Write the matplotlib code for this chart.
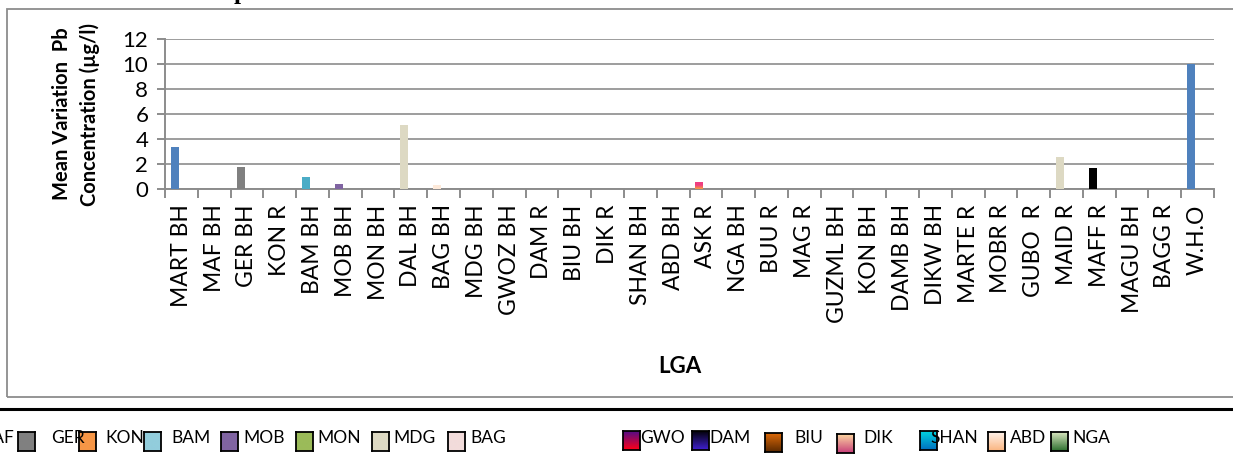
import numpy as np
import matplotlib
matplotlib.use('Agg')
import matplotlib.pyplot as plt
from matplotlib.patches import Rectangle
from matplotlib.colors import LinearSegmentedColormap
from matplotlib.lines import Line2D

# ---------------- data ----------------
categories = ['MART BH', 'MAF BH', 'GER BH', 'KON R', 'BAM BH', 'MOB BH', 'MON BH',
              'DAL BH', 'BAG BH', 'MDG BH', 'GWOZ BH', 'DAM R', 'BIU BH', 'DIK R',
              'SHAN BH', 'ABD BH', 'ASK R', 'NGA BH', 'BUU R', 'MAG R', 'GUZML BH',
              'KON BH', 'DAMB BH', 'DIKW BH', 'MARTE R', 'MOBR R', 'GUBO  R', 'MAID R',
              'MAFF R', 'MAGU BH', 'BAGG R', 'W.H.O']
values = [3.4, 0, 1.75, 0, 0.95, 0.4, 0, 5.1, 0.35, 0, 0, 0, 0, 0, 0, 0, 0.6,
          0, 0, 0, 0, 0, 0, 0, 0, 0, 0, 2.6, 1.7, 0, 0, 10.0]
bar_colors = ['#4F81BD', '#C0504D', '#808080', '#F79646', '#4BACC6', '#8064A2', '#9BBB59',
              '#DDD9C3', '#FDE9D9', '#DDD9C3', '#7030A0', '#000080', '#E36C09', '#FAC090',
              '#00B0F0', '#FAC090', '#EF3E82', '#9BBB59', '#4F81BD', '#C0504D', '#9BBB59',
              '#F79646', '#4BACC6', '#8064A2', '#4F81BD', '#C0504D', '#9BBB59', '#DDD9C3',
              '#000000', '#4BACC6', '#F79646', '#4F81BD']

y_ticks = [0, 2, 4, 6, 8, 10, 12]

legend_labels = ['GER', 'KON', 'BAM', 'MOB', 'MON', 'MDG', 'BAG', 'GWO', 'DAM',
                 'BIU', 'DIK', 'SHAN', 'ABD', 'NGA']
legend_top = ['#808080', '#F79646', '#92CDDC', '#8064A2', '#9BBB59', '#DDD9C3', '#F2DCDB',
              '#4B0C8C', '#000000', '#E36C09', '#FCD5A0', '#00D8E0', '#FFF2EA', '#D7E4BD']
legend_bottom = ['#808080', '#F79646', '#92CDDC', '#8064A2', '#9BBB59', '#DDD9C3', '#F2DCDB',
                 '#FF0018', '#4020D0', '#5C2A00', '#C8407A', '#0070C0', '#FAB580', '#2E7030']

# ---------------- layout ----------------
W, H = 1233, 465
fig = plt.figure(figsize=(W / 100, H / 100), dpi=100)
fig.patch.set_facecolor('white')


def fx(px):
    return px / W


def fy(py):
    return 1 - py / H


FONT = ['Lato', 'DejaVu Sans']
GRID = '#8C8C8C'

ax = fig.add_axes([fx(165), fy(189), (1214 - 165) / W, 150 / H])
xpos = np.arange(len(categories))
bars = ax.bar(xpos - 0.195, values, width=0.244, color=bar_colors, zorder=3, linewidth=0)

# gradient on the ASK R bar
b = bars[categories.index('ASK R')]
grad = np.linspace(0, 1, 64).reshape(-1, 1)
cmap = LinearSegmentedColormap.from_list('ask', ['#F7A040', '#EF3E82', '#EF3E82'])
im = ax.imshow(grad, extent=[b.get_x(), b.get_x() + b.get_width(), 0, b.get_height()],
               origin='lower', aspect='auto', cmap=cmap, zorder=4)
im.set_clip_path(b)

ax.set_xlim(-0.5, len(categories) - 0.5)
ax.set_ylim(0, 12)
ax.set_yticks(y_ticks)
ax.yaxis.grid(True, color=GRID, linewidth=1.2)
ax.set_axisbelow(True)

for s in ['top', 'right']:
    ax.spines[s].set_visible(False)
for s in ['left', 'bottom']:
    ax.spines[s].set_color(GRID)
    ax.spines[s].set_linewidth(1.4)

ax.set_xticks(xpos)
ax.set_xticklabels(categories, rotation=90, fontsize=16.5, family=FONT, va='top', ha='center')
ax.set_xticks(np.arange(-0.5, len(categories), 1), minor=True)
ax.tick_params(axis='x', which='major', length=0, pad=11)
ax.tick_params(axis='x', which='minor', length=6.5, width=1.4, color=GRID)
ax.tick_params(axis='y', length=6, width=1.4, color=GRID, pad=6, labelsize=16)
for t in ax.get_yticklabels():
    t.set_family(FONT)

# axis titles
fig.text(fx(76), fy(114), 'Mean Variation  Pb\nConcentration (\u00b5g/l)', rotation=90,
         ha='center', va='center', multialignment='center', fontsize=14.5,
         fontweight='bold', family=FONT, linespacing=1.4)
fig.text(fx(680), fy(366), 'LGA', ha='center', va='center', fontsize=16,
         fontweight='bold', family=FONT)

# cut-off title at the very top
fig.text(fx(241), fy(-1), 'p', ha='center', va='baseline', fontsize=18,
         fontweight='bold', family=['Liberation Serif', 'DejaVu Serif'])

# chart frame
fig.patches.append(Rectangle((fx(7), fy(397)), fx(1245) - fx(7), fy(9) - fy(397),
                             transform=fig.transFigure, fill=False, ec=GRID, lw=1.3))
# black separator line
fig.add_artist(Line2D([0, 1], [fy(409), fy(409)], color='black', lw=2.2,
                      transform=fig.transFigure))

# legend (as shown, a separate misaligned row)
sq_x = [18, 79, 144, 221, 296, 372, 448, 623, 692, 765, 837, 920, 988, 1051]
sq_y = [432, 432, 432, 432, 432, 432, 432, 431, 431, 433, 434, 431, 432, 432]
lab_x = [51, 105, 171, 243, 317, 393, 470, 640, 709, 794, 863, 930, 1010, 1072]
fig.text(fx(14), fy(443), 'MAF', ha='right', va='baseline', fontsize=12.5, family=FONT)
for lab, top, bot, sx, sy, lx in zip(legend_labels, legend_top, legend_bottom, sq_x, sq_y, lab_x):
    fig.text(fx(lx), fy(443), lab, ha='left', va='baseline', fontsize=12.5, family=FONT)
    sax = fig.add_axes([fx(sx), fy(sy + 19), 17 / W, 19 / H])
    cm = LinearSegmentedColormap.from_list('sq', [bot, top])
    sax.imshow(np.linspace(0, 1, 32).reshape(-1, 1), origin='lower', aspect='auto', cmap=cm)
    sax.set_xticks([])
    sax.set_yticks([])
    for s in sax.spines.values():
        s.set_color('black')
        s.set_linewidth(1.3)

fig.savefig('out.png', dpi=100)
